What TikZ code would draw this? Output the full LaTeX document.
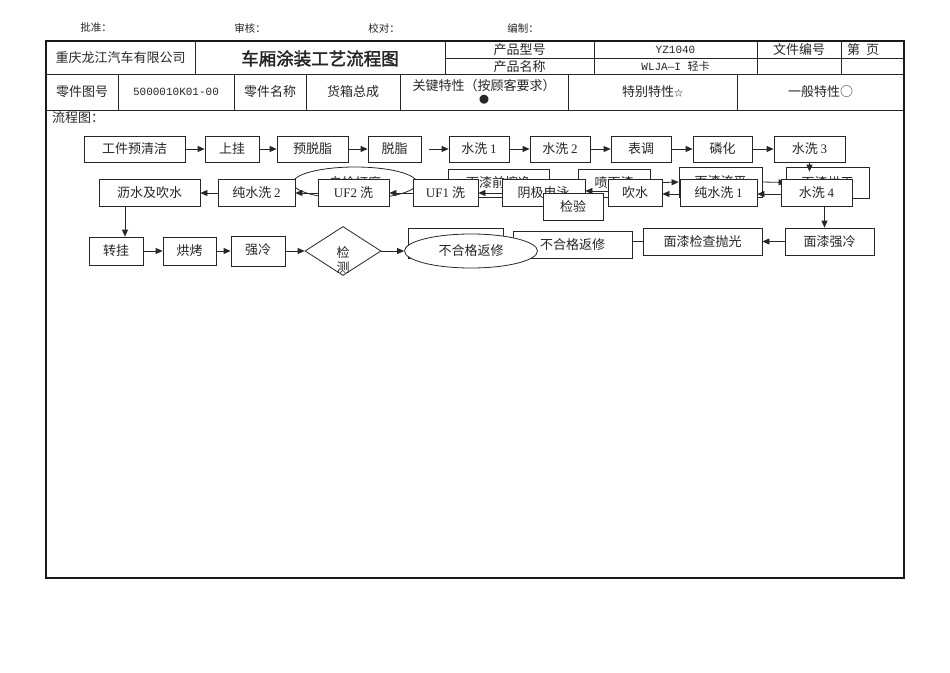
\documentclass[tikz,border=0pt]{standalone}
\usepackage{fontspec}
\setmainfont{Liberation Serif}
\newfontfamily\cjk[AutoFakeBold=2]{Noto Sans CJK SC}
\newfontfamily\monof{Liberation Mono}
\usetikzlibrary{arrows.meta,shapes.geometric}
\newcommand\lat[1]{{\rmfamily #1}}
\tikzset{
  ln/.style={draw=black!85, line width=0.8pt},
  frame/.style={draw=black!90, line width=1.1pt},
  bx/.style={ln, fill=white, rectangle, inner sep=0pt, text=black!85, font=\cjk\fontsize{13}{15}\selectfont},
  ell/.style={ln, fill=white, ellipse, inner sep=0pt, text=black!85, font=\cjk\fontsize{13}{15}\selectfont},
  dia/.style={ln, fill=white, diamond, inner sep=0pt},
  arr/.style={ln, -{Triangle[length=7pt,width=6pt]}},
  lbl/.style={inner sep=0pt, text=black!85, font=\cjk\fontsize{13}{15}\selectfont},
  small/.style={inner sep=0pt, text=black!85, font=\cjk\fontsize{10.5}{12}\selectfont},
  mono/.style={inner sep=0pt, text=black!85, font=\monof\fontsize{11}{13}\selectfont},
}
\begin{document}
\begin{tikzpicture}[x=1pt,y=-1pt]
\useasboundingbox (0,0) rectangle (950,672);
% top signatures
\node[small] (s1) at (96,28) {批准：};
\node[small] (s2) at (250,28) {审核：};
\node[small] (s3) at (384,28) {校对：};
\node[small] (s4) at (523,28) {编制：};
% frame and table
\draw[frame] (46,41) rectangle (904,578);
\draw[ln] (46,74) -- (904,74);
\draw[ln] (46,110) -- (904,110);
\foreach \x in {195,445,594,757,841} \draw[ln] (\x,41) -- (\x,74);
\draw[ln] (445,58) -- (904,58);
\foreach \x in {118,234,306,400,568,737} \draw[ln] (\x,74) -- (\x,110);
\node[lbl] (t1) at (120.5,58) {重庆龙江汽车有限公司};
\node[lbl, font=\cjk\bfseries\fontsize{17.5}{20}\selectfont] (t2) at (320,58.5) {车厢涂装工艺流程图};
\node[lbl] (t3) at (519.5,50) {产品型号};
\node[lbl] (t4) at (519.5,66.5) {产品名称};
\node[mono] (t5) at (675.5,50) {YZ1040};
\node[mono] (t6) at (675.5,66.5) {WLJA—I {\cjk 轻卡}};
\node[lbl] (t7) at (799,50) {文件编号};
\node[lbl, anchor=west] (t8) at (847,50) {第\hspace{6pt}页};
\node[lbl] (u1) at (82,92) {零件图号};
\node[mono] (u2) at (176,92) {5000010K01-00};
\node[lbl] (u3) at (270,92) {零件名称};
\node[lbl] (u4) at (353,92) {货箱总成};
\node[lbl] (u5) at (484,86) {关键特性（按顾客要求）};
\node[lbl, font=\cjk\fontsize{10}{12}\selectfont] (u6) at (484,100) {●};
\node[lbl] (u7) at (652.5,92) {特别特性{\fontsize{9}{10}\selectfont ☆}};
\node[lbl] (u8) at (820.5,92) {一般特性○};
\node[lbl, anchor=west] (fl) at (52,118) {流程图：};
% row 1
\node[bx, minimum width=101pt, minimum height=26pt] (a1) at (134.5,149) {工件预清洁};
\node[bx, minimum width=54pt, minimum height=26pt] (a2) at (232,149) {上挂};
\node[bx, minimum width=71pt, minimum height=26pt] (a3) at (312.5,149) {预脱脂};
\node[bx, minimum width=53pt, minimum height=26pt] (a4) at (394.5,149) {脱脂};
\node[bx, minimum width=60pt, minimum height=26pt] (a5) at (479,149) {水洗 \lat{1}};
\node[bx, minimum width=60pt, minimum height=26pt] (a6) at (560,149) {水洗 \lat{2}};
\node[bx, minimum width=60pt, minimum height=26pt] (a7) at (641,149) {表调};
\node[bx, minimum width=59pt, minimum height=26pt] (a8) at (722.5,149) {磷化};
\node[bx, minimum width=71pt, minimum height=26pt] (a9) at (809.5,149) {水洗 \lat{3}};
\draw[arr] (a1) -- (a2);
\draw[arr] (a2) -- (a3);
\draw[arr] (a3) -- (a4);
\draw[arr, shorten <=8pt] (a4) -- (a5);
\draw[arr] (a5) -- (a6);
\draw[arr] (a6) -- (a7);
\draw[arr] (a7) -- (a8);
\draw[arr] (a8) -- (a9);
% hidden layer
\node[bx, minimum width=101pt, minimum height=28pt] (h1) at (498.5,183) {面漆前擦净};
\node[bx, minimum width=72pt, minimum height=28pt] (h2) at (614,183) {喷面漆};
\node[bx, minimum width=83pt, minimum height=30pt] (h3) at (720.5,182) {面漆流平};
\node[bx, minimum width=83pt, minimum height=31pt] (h4) at (827.5,182.5) {面漆烘干};
\draw[arr] ([yshift=-1pt]h1.east) -- ([yshift=-1pt]h2.west);
\draw[arr] (h2.east) -- (h3.west);
\draw[arr] (h3.east) -- (h4.west);
\draw[arr, shorten >=-5pt] (a9.south) -- (a9.south |- h4.north);
\node[ell, minimum width=124pt, minimum height=32pt] (e1) at (355,183) {自检打磨};
% row 2
\node[bx, minimum width=101pt, minimum height=27pt] (b1) at (149.5,193) {沥水及吹水};
\node[bx, minimum width=77pt, minimum height=27pt] (b2) at (256.5,193) {纯水洗 \lat{2}};
\node[bx, minimum width=71pt, minimum height=27pt] (b3) at (353.5,193) {\lat{UF2} 洗};
\node[bx, minimum width=65pt, minimum height=27pt] (b4) at (445.5,193) {\lat{UF1} 洗};
\node[bx, minimum width=83pt, minimum height=27pt] (b5) at (543.5,193) {阴极电泳};
\node[bx, minimum width=60pt, minimum height=27pt] (b9) at (573,207) {检验};
\node[bx, minimum width=54pt, minimum height=27pt] (b6) at (635,193) {吹水};
\node[bx, minimum width=77pt, minimum height=27pt] (b7) at (718.5,193) {纯水洗 \lat{1}};
\node[bx, minimum width=71pt, minimum height=27pt] (b8) at (816.5,193) {水洗 \lat{4}};
\draw[arr] ([yshift=-1pt]b8.west) -- ([yshift=-1pt]b7.east);
\draw[arr] ([yshift=-1pt]b7.west) -- ([yshift=-1pt]b6.east);
\draw[arr] ([yshift=2pt]b6.west) -- ([yshift=2pt]b5.east);
\draw[arr] (b5) -- (b4);
\draw[arr] (b4) -- (b3);
\draw[arr] (b3) -- (b2);
\draw[arr] (b2) -- (b1);
% row 3
\node[bx, minimum width=54pt, minimum height=28pt] (c1) at (116,251) {转挂};
\node[bx, minimum width=53pt, minimum height=28pt] (c2) at (189.5,251) {烘烤};
\node[bx, minimum width=54pt, minimum height=30pt] (c3) at (258,251) {\raisebox{3pt}{强冷}};
\node[dia, minimum width=76pt, minimum height=49pt] (d) at (343,251) {};
\node[lbl, align=center, font=\cjk\fontsize{13}{15}\selectfont] (dt) at (343,260) {检\\测};
\draw[arr] ([xshift=9pt]c1.north |- b1.south) -- ([xshift=9pt]c1.north);
\draw[arr] (c1) -- (c2);
\draw[arr] (c2) -- (c3);
\draw[arr] (c3) -- (d);
\node[bx, minimum width=95pt, minimum height=30pt] (r0) at (455.5,243) {};
\node[bx, minimum width=119pt, minimum height=27pt] (r1) at (572.5,244.5) {不合格返修};
\node[ell, minimum width=133pt, minimum height=34pt] (e2) at (471,251) {不合格返修};
\draw[arr] (d) -- (e2);
\node[bx, minimum width=119pt, minimum height=27pt] (c5) at (702.5,241.5) {面漆检查抛光};
\node[bx, minimum width=89pt, minimum height=27pt] (c6) at (829.5,241.5) {面漆强冷};
\draw[ln] (r1.east |- c5.west) -- (c5.west);
\draw[arr] (c6) -- (c5);
\draw[arr] ([xshift=8pt]b8.south) -- ([xshift=8pt]b8.south |- c6.north);
\end{tikzpicture}
\end{document}
